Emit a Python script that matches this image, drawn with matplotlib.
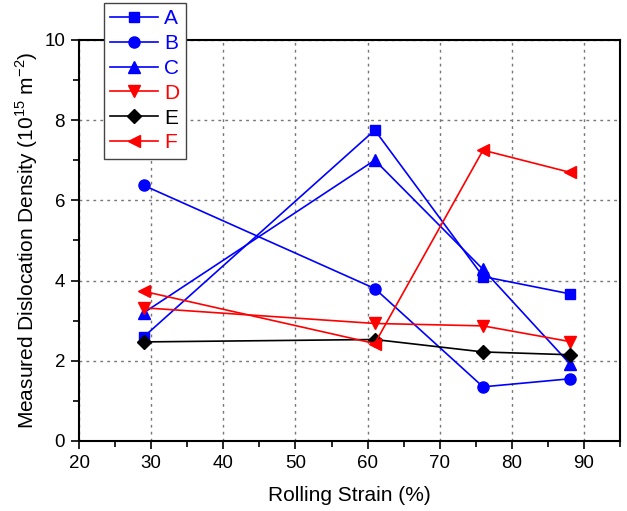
import numpy as np
import matplotlib
matplotlib.use('Agg')
import matplotlib.pyplot as plt

plt.rcParams['font.family'] = ['Liberation Sans', 'DejaVu Sans']
plt.rcParams['mathtext.fontset'] = 'custom'
plt.rcParams['mathtext.rm'] = 'Liberation Sans'

strain = [29, 61, 76, 88]
series_names = ['A', 'B', 'C', 'D', 'E', 'F']
dens_a = [2.6, 7.75, 4.1, 3.67]
dens_b = [6.37, 3.8, 1.35, 1.55]
dens_c = [3.2, 7.0, 4.28, 1.93]
dens_d = [3.32, 2.93, 2.87, 2.48]
dens_e = [2.47, 2.53, 2.22, 2.15]
dens_f = [3.73, 2.43, 7.25, 6.7]

colors = ['#0000ff', '#0000ff', '#0000ff', '#ff0000', '#000000', '#ff0000']
markers = ['s', 'o', '^', 'v', 'D', '<']
msizes = [7, 8, 8, 8, 7, 8]


def main():
    fig = plt.figure(figsize=(6.27, 5.11), dpi=100)
    ax = fig.add_axes([0.126, 0.137, 0.863, 0.785])

    data = [dens_a, dens_b, dens_c, dens_d, dens_e, dens_f]
    for name, y, c, m, ms in zip(series_names, data, colors, markers, msizes):
        ax.plot(strain, y, color=c, marker=m, ms=ms, lw=1.2, label=name)

    ax.set_xlim(20, 95)
    ax.set_ylim(0, 10)
    ax.set_xticks(np.arange(20, 91, 10))
    ax.set_xticks(np.arange(25, 96, 10), minor=True)
    ax.set_yticks(np.arange(0, 11, 2))
    ax.set_yticks(np.arange(1, 10, 2), minor=True)
    ax.tick_params(which='major', direction='out', length=6, width=1.2,
                   labelsize=13.5, pad=4)
    ax.tick_params(which='minor', direction='out', length=4, width=1.2)
    for sp in ax.spines.values():
        sp.set_linewidth(1.5)

    ax.grid(True, which='major', ls=(0, (2, 3)), color='#777777', lw=1)

    ax.set_xlabel('Rolling Strain (%)', fontsize=15, labelpad=10)
    ax.set_ylabel(r'Measured Dislocation Density (10$^{\mathrm{15}}$ m$^{\mathrm{-2}}$)',
                  fontsize=15, labelpad=3)

    leg = fig.legend(loc='upper left', bbox_to_anchor=(104/627, 1 - 3/511),
                     fontsize=15, handlelength=2.3, fancybox=False,
                     edgecolor='#444444', framealpha=1, borderpad=0.3,
                     borderaxespad=0, labelspacing=0.28, handletextpad=0.3)
    for txt, c in zip(leg.get_texts(), colors):
        txt.set_color(c)

    fig.savefig('out.png', dpi=100)


if __name__ == '__main__':
    main()
